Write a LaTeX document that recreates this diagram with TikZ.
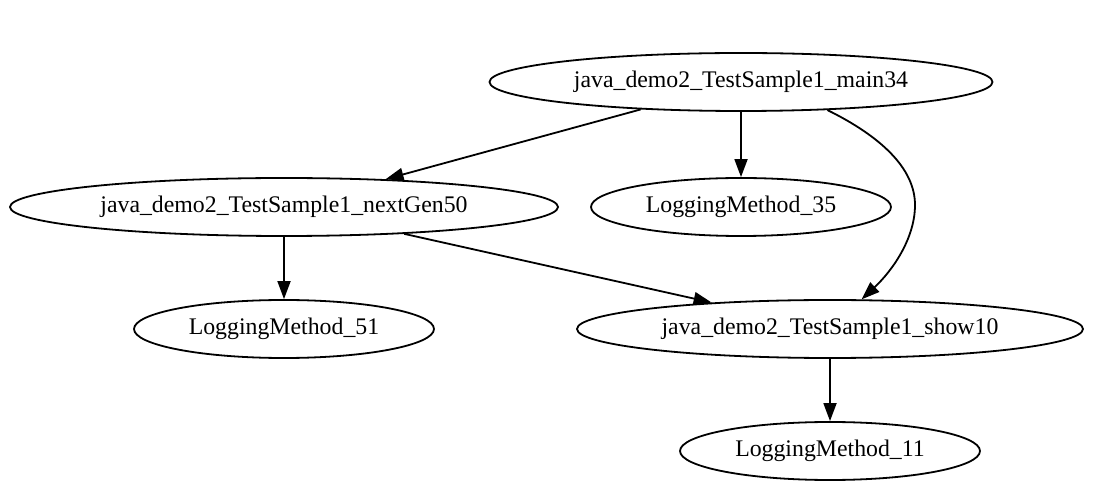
\documentclass[tikz,border=0pt]{standalone}
\usepackage{fontspec}
\setmainfont{Liberation Serif}
\usetikzlibrary{
  arrows.meta,
  shapes.geometric
}
\tikzset{>={Triangle[length=18pt,width=13pt]}}

\begin{document}
\begin{tikzpicture}[x=1pt,y=-1pt,line width=1.8pt,
  fn/.style={ellipse,draw,inner sep=0pt,minimum height=58pt,
    font=\fontsize{23.8}{28}\selectfont}]
\useasboundingbox (0,0) rectangle (1098,502);
\node[fn,minimum width=503pt] (main34) at (741,82) {java\_demo2\_TestSample1\_main34};
\node[fn,minimum width=548pt] (nextGen50) at (284,207) {java\_demo2\_TestSample1\_nextGen50};
\node[fn,minimum width=300pt] (log35) at (741,207) {LoggingMethod\_35};
\node[fn,minimum width=300pt] (log51) at (284,329) {LoggingMethod\_51};
\node[fn,minimum width=506pt] (show10) at (830,329) {java\_demo2\_TestSample1\_show10};
\node[fn,minimum width=300pt] (log11) at (830,451) {LoggingMethod\_11};
\draw[->] (main34) -- (nextGen50);
\draw[->] (main34) -- (log35);
\draw[->] (main34.-18) .. controls (880,136) and (915,168) .. (915,205)
  .. controls (915,238) and (893,270) .. (show10);
\draw[->] (nextGen50) -- (log51);
\draw[->] (nextGen50) -- (show10);
\draw[->] (show10) -- (log11);
\end{tikzpicture}
\end{document}
